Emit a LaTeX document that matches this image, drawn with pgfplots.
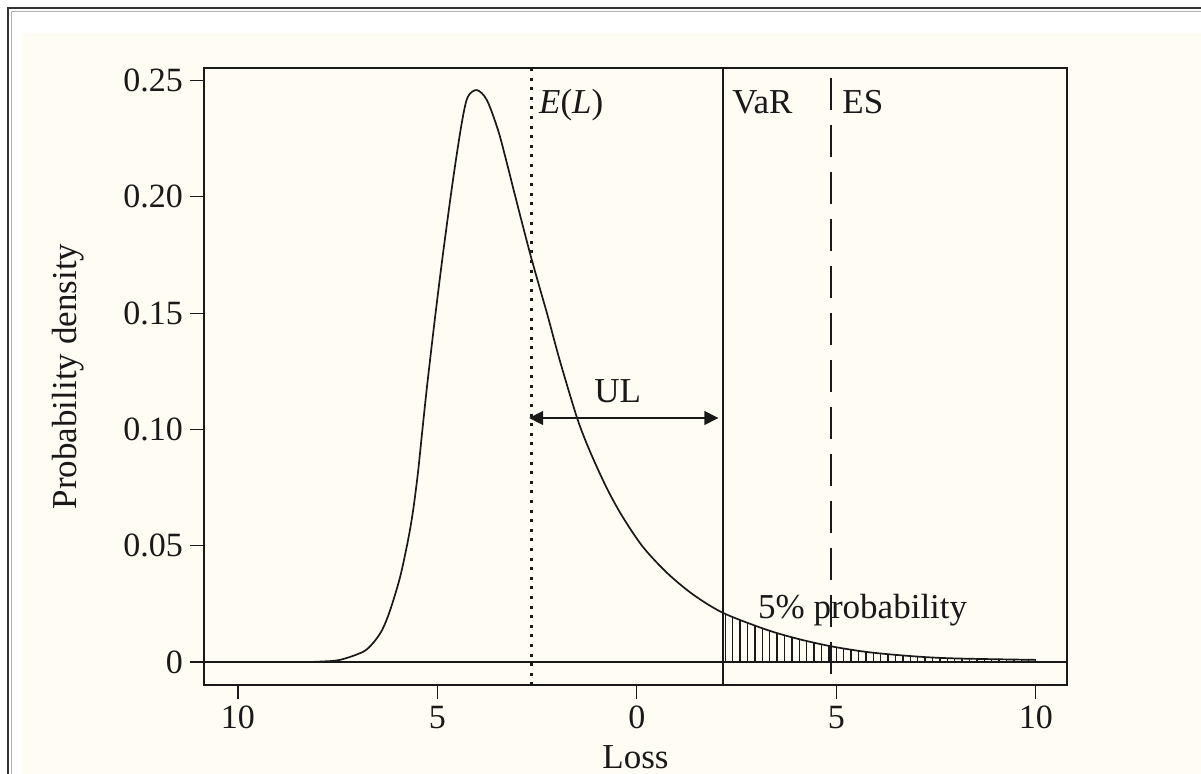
\documentclass[border=0pt]{standalone}
\usepackage{pgfplots}
\usepackage{pgfplotstable}
\pgfplotsset{compat=1.18}
\usetikzlibrary{patterns.meta,arrows.meta}
\usepackage{fontspec}
\setmainfont{Liberation Serif}

\definecolor{paper}{RGB}{254,252,243}
\definecolor{ink}{RGB}{25,25,25}

% loss density
\pgfplotstableread{
x      y
-10.85 0
-8.40  0
-7.90  0.0002
-7.44  0.0009
-6.87  0.0043
-6.62  0.0080
-6.39  0.0136
-6.19  0.0220
-5.94  0.0362
-5.74  0.0520
-5.61  0.0650
-5.49  0.0810
-5.39  0.0975
-5.26  0.1185
-5.06  0.1480
-4.86  0.1755
-4.61  0.2072
-4.39  0.2317
-4.24  0.2429
-4.01  0.2459
-3.76  0.2416
-3.48  0.2287
-3.26  0.2146
-2.98  0.1956
-2.68  0.1758
-2.43  0.1605
-2.23  0.1485
-1.93  0.1295
-1.50  0.1050
-1.18  0.0907
-0.75  0.0746
-0.35  0.0622
0.15   0.0495
0.75   0.0384
1.40   0.0291
2.16   0.0211
3.26   0.0138
4.09   0.0097
4.91   0.0066
5.76   0.0043
6.59   0.0029
7.42   0.0019
8.27   0.0014
10.00  0.0009
}\density

\begin{document}
\begin{tikzpicture}
\path[use as bounding box] (-102pt,-44.5pt) rectangle (498.5pt,342.5pt);
\fill[paper] (-91pt,-44.5pt) rectangle (498.5pt,326pt);
\draw[gray!60, line width=0.5pt] (-96pt,-44.5pt) -- (-96pt,336.5pt) -- (498.5pt,336.5pt);
\draw[black!80, line width=1pt] (-98pt,-44.5pt) -- (-98pt,338.5pt) -- (498.5pt,338.5pt);
\begin{axis}[
    at={(0,0)}, anchor=south west,
    scale only axis,
    width=431.5pt, height=308.5pt,
    xmin=-10.85, xmax=10.78,
    ymin=-0.0099, ymax=0.2554,
    axis line style={ink, line width=0.6pt},
    tick style={ink, line width=0.6pt},
    tick align=outside,
    major tick length=7pt,
    xtick pos=bottom, ytick pos=left,
    xtick={-10,-5,0,5,10},
    xticklabels={10,5,0,5,10},
    ytick={0,0.05,0.10,0.15,0.20,0.25},
    yticklabels={0,0.05,0.10,0.15,0.20,0.25},
    ticklabel style={font=\fontsize{17}{19}\selectfont, text=ink},
    xlabel={Loss},
    ylabel={Probability density},
    label style={font=\fontsize{17.5}{20}\selectfont, text=ink},
    xlabel style={at={(axis description cs:0.5,-0.117)}, anchor=center},
    ylabel style={at={(axis description cs:-0.157,0.5)}, anchor=center},
    clip=false,
]
% hatched 5% tail beyond VaR
\addplot[draw=none, pattern={Lines[angle=90,distance=3.7pt,line width=0.7pt]}, pattern color=ink]
    table[x=x, y=y, restrict x to domain=2.16:10] {\density} \closedcycle;
\addplot[ink, line width=0.6pt] coordinates {(-10.85,0) (10.78,0)};
\addplot[ink, line width=0.85pt, smooth, tension=0.5] table[x=x,y=y] {\density};

% E(L), VaR and ES markers
\addplot[ink, line width=1.5pt, dash pattern=on 1.5pt off 3.3pt] coordinates {(-2.63,0.2554) (-2.63,-0.0099)};
\addplot[ink, line width=0.6pt] coordinates {(2.16,0.2554) (2.16,-0.0099)};
\addplot[ink, line width=0.7pt, dash pattern=on 16pt off 7.5pt] coordinates {(4.86,0.2510) (4.86,-0.0099)};

\draw[ink, line width=0.8pt, {Triangle[length=7pt,width=7pt]}-{Triangle[length=7pt,width=7pt]}]
    (axis cs:-2.70,0.1049) -- (axis cs:2.04,0.1049);

\begin{scope}[every node/.style={font=\fontsize{17.5}{20}\selectfont, text=ink, inner sep=0pt}]
\node[anchor=base west] at (axis cs:-2.46,0.236) {\textit{E}(\textit{L})};
\node[anchor=base west] at (axis cs:2.38,0.236) {VaR};
\node[anchor=base west] at (axis cs:5.14,0.236) {ES};
\node[anchor=base] at (axis cs:-0.48,0.1114) {UL};
\node[anchor=base west] at (axis cs:3.03,0.0189) {5\% probability};
\end{scope}
\end{axis}
\end{tikzpicture}
\end{document}
